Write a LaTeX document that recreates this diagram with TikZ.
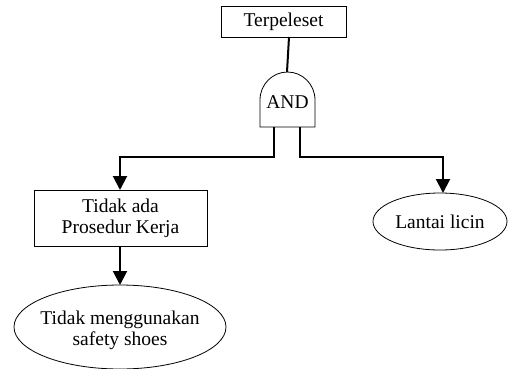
\documentclass[tikz,border=0pt]{standalone}
\usepackage{fontspec}
\setmainfont{Liberation Serif}
\usetikzlibrary{arrows.meta}
\begin{document}
\begin{tikzpicture}[x=1pt,y=-1pt,
  lbl/.style={font=\fontsize{19.5}{21}\selectfont, align=center, inner sep=0pt},
  boxshape/.style={draw, line width=0.8pt},
  conn/.style={line width=2pt},
  arr/.style={conn, -{Triangle[length=14pt,width=14pt]}}]
\useasboundingbox (0,0) rectangle (509,368);
% top event
\draw[boxshape] (221,6) rectangle (346,37);
\node[lbl] (top) at (283.5,21.5) {Terpeleset};
% AND gate
\draw[boxshape] (260,127) -- (260,100) arc[start angle=180,end angle=360,x radius=27.5,y radius=28] -- (315,127) -- cycle;
\node[lbl] (gate) at (287.5,102) {AND};
\coordinate (topout) at (289,37);
\coordinate (gatein) at (287,72);
\coordinate (gl) at (274,127);
\coordinate (gr) at (300,127);
% left box
\draw[boxshape] (34,190) rectangle (207,246);
\node[lbl] (prosedur) at (120.5,218) {Tidak ada\\Prosedur Kerja};
\coordinate (pin) at (120,190);
\coordinate (pout) at (120,246);
% right ellipse
\draw[boxshape] (440,221.5) ellipse[x radius=67,y radius=28.5];
\node[lbl] (lantai) at (440,222) {Lantai licin};
\coordinate (lin) at (443,193);
% bottom ellipse
\draw[boxshape] (120,327) ellipse[x radius=106,y radius=42];
\node[lbl] (shoes) at (120,330) {Tidak menggunakan\\safety shoes};
\coordinate (sin) at (120,285);
% connectors
\draw[conn] (topout) -- (gatein);
\draw[arr] (gl) |- (120,157) -- (pin);
\draw[arr] (gr) |- (443,157) -- (lin);
\draw[arr] (pout) -- (sin);
\end{tikzpicture}
\end{document}
